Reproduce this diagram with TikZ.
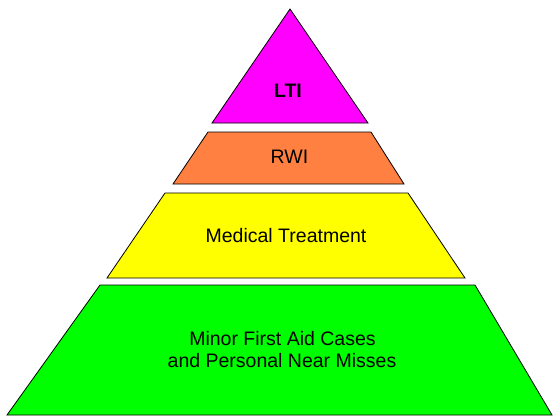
\documentclass[tikz,border=0pt]{standalone}
\usepackage{fontspec}
\setmainfont{Liberation Sans}
\definecolor{ltimag}{HTML}{FF00FF}
\definecolor{rwiorg}{HTML}{FF8040}
\definecolor{medyel}{HTML}{FFFF00}
\definecolor{mingrn}{HTML}{00FF00}
\tikzset{
  tier/.style={draw=black, line width=0.8pt, line join=miter},
  lbl/.style={anchor=base, inner sep=0pt, font=\fontsize{19.5}{22}\selectfont, align=center}
}
\begin{document}
\begin{tikzpicture}[x=1pt,y=-1pt]
\useasboundingbox (0,0) rectangle (553,417);
\draw[tier, fill=ltimag] (290,9) -- (368,123) -- (212,123) -- cycle;
\draw[tier, fill=rwiorg] (208,132) -- (371,132) -- (404,184) -- (173,184) -- cycle;
\draw[tier, fill=medyel] (165,193) -- (408,193) -- (465,278) -- (107,278) -- cycle;
\draw[tier, fill=mingrn] (100,285) -- (475,285) -- (552,415) -- (7,415) -- cycle;
\node[lbl, font=\fontsize{19.5}{22}\selectfont\bfseries] (lti) at (288,97) {LTI};
\node[lbl] (rwi) at (289.5,163) {RWI};
\node[lbl] (med) at (286,242) {Medical Treatment};
\node[lbl] (min1) at (282.5,345) {Minor First Aid Cases};
\node[lbl] (min2) at (282,367) {and Personal Near Misses};
\end{tikzpicture}
\end{document}
